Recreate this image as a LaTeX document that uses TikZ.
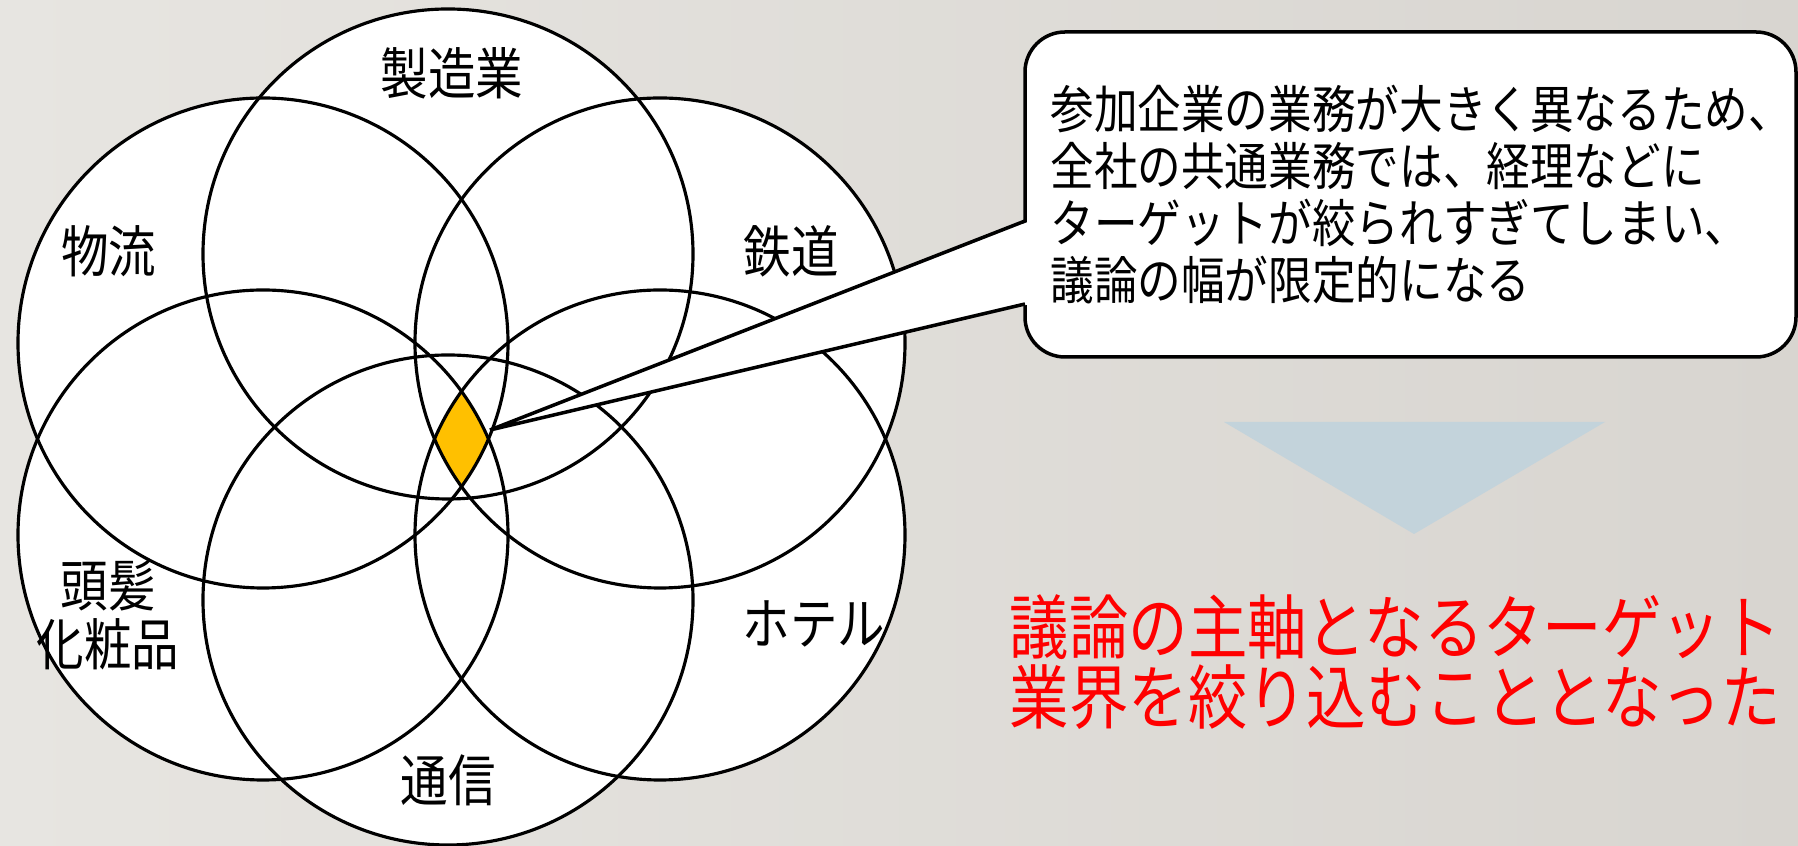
\documentclass[tikz,border=0pt]{standalone}
\usepackage{fontspec}
\newfontfamily\jpfont[FakeStretch=0.85]{Noto Sans CJK JP}
\definecolor{bgLight}{RGB}{231,229,225}
\definecolor{bgDark}{RGB}{216,213,208}
\definecolor{hitGold}{RGB}{255,192,0}
\definecolor{arrowBlue}{RGB}{195,211,219}
\tikzset{
	ring/.style={draw=black, line width=0.9pt},
	ringlabel/.style={font=\jpfont\fontsize{15.9}{16.8}\selectfont, inner sep=0pt, align=center},
	note/.style={draw=black, fill=white, line width=1pt, rounded corners=0.4cm,
		minimum width=7.71cm, minimum height=3.25cm, text width=7.2cm, align=left,
		font=\jpfont\fontsize{14.6}{16.2}\selectfont},
	pointer/.style={draw=black, line width=1pt, line join=miter},
	verdict/.style={text=red, inner sep=0pt, align=left,
		font=\jpfont\fontsize{19.9}{19.8}\selectfont}
}

\begin{document}
\begin{tikzpicture}
	\useasboundingbox (0,0) rectangle (17.98,8.46);
	\shade[left color=bgLight, right color=bgDark] (0,0) rectangle (17.98,8.46);

	\coordinate (manuf) at (4.48,5.92);
	\coordinate (logi) at (2.63,5.03);
	\coordinate (rail) at (6.60,5.03);
	\coordinate (hair) at (2.63,3.11);
	\coordinate (hotel) at (6.60,3.11);
	\coordinate (telecom) at (4.48,2.46);

	\foreach \c in {manuf,logi,rail,hair,hotel,telecom}
		\fill[white] (\c) circle (2.45);

	% common part of the four side circles
	\begin{scope}
		\clip (logi) circle (2.45);
		\clip (rail) circle (2.45);
		\clip (hair) circle (2.45);
		\fill[hitGold] (hotel) circle (2.45);
	\end{scope}

	\foreach \c in {manuf,logi,rail,hair,hotel,telecom}
		\draw[ring] (\c) circle (2.45);

	\node[ringlabel] (tmanuf) at (4.52,7.73) {製造業};
	\node[ringlabel] (tlogi) at (1.09,5.95) {物流};
	\node[ringlabel] (trail) at (7.91,5.95) {鉄道};
	\node[ringlabel] (thair) at (1.08,2.31) {頭髪\\化粧品};
	\node[ringlabel] (thotel) at (8.14,2.22) {ホテル};
	\node[ringlabel] (ttelecom) at (4.48,0.66) {通信};

	\node[note] (note) at (14.105,6.515) {参加企業の業務が大きく異なるため、\\全社の共通業務では、経理などに\\ターゲットが絞られすぎてしまい、\\議論の幅が限定的になる};
	\coordinate (tip) at (4.90,4.16);
	\coordinate (noteup) at (10.25,6.25);
	\coordinate (notelo) at (10.25,5.42);
	\fill[white] ([xshift=1.5pt]noteup) -- (tip) -- ([xshift=1.5pt]notelo) -- cycle;
	\draw[pointer] (noteup) -- (tip) -- (notelo);

	\fill[arrowBlue] (12.24,4.24) -- (16.05,4.24) -- (14.14,3.12) -- cycle;

	\node[verdict, anchor=west] (result) at (10.09,1.84) {議論の主軸となるターゲット\\業界を絞り込むこととなった};
\end{tikzpicture}
\end{document}
